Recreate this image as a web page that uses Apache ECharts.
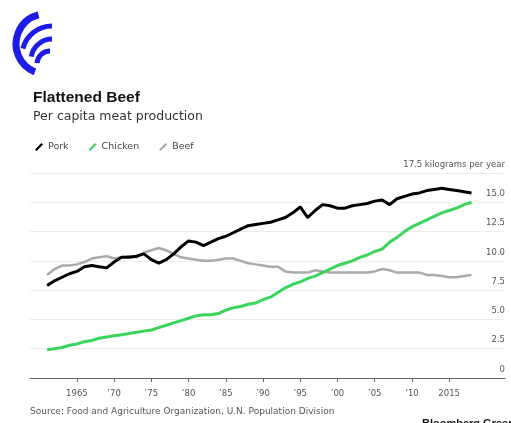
<!DOCTYPE html>
<html>
<head>
<meta charset="utf-8">
<script src="https://cdn.jsdelivr.net/npm/echarts@6/dist/echarts.min.js"></script>
<style>html,body{margin:0;padding:0;background:#fff}#c{width:511px;height:423px}</style>
</head>
<body>
<div id="c"></div>
<script>
const years = [];
for (let y = 1961; y <= 2018; y++) years.push(y);
const pork = [7.9,8.3,8.6,8.9,9.1,9.5,9.6,9.5,9.4,9.9,10.3,10.3,10.4,10.6,10.1,9.8,10.1,10.6,11.2,11.7,11.6,11.3,11.6,11.9,12.1,12.4,12.7,13.0,13.1,13.2,13.3,13.5,13.7,14.1,14.6,13.7,14.3,14.8,14.7,14.5,14.5,14.7,14.8,14.9,15.1,15.2,14.8,15.3,15.5,15.7,15.8,16.0,16.1,16.2,16.1,16.0,15.9,15.8];
const chicken = [2.4,2.5,2.6,2.8,2.9,3.1,3.2,3.4,3.5,3.6,3.7,3.8,3.9,4.0,4.1,4.3,4.5,4.7,4.9,5.1,5.3,5.4,5.4,5.5,5.8,6.0,6.1,6.3,6.4,6.7,6.9,7.3,7.7,8.0,8.2,8.5,8.7,9.0,9.3,9.6,9.8,10.0,10.3,10.5,10.8,11.0,11.6,12.0,12.5,12.9,13.2,13.5,13.8,14.1,14.3,14.5,14.8,15.0];
const beef = [8.8,9.3,9.6,9.6,9.7,9.9,10.2,10.3,10.4,10.2,10.3,10.4,10.3,10.7,10.9,11.1,10.9,10.6,10.3,10.2,10.1,10.0,10.0,10.1,10.2,10.2,10.0,9.8,9.7,9.6,9.5,9.5,9.1,9.0,9.0,9.0,9.2,9.1,9.0,9.0,9.0,9.0,9.0,9.0,9.1,9.3,9.2,9.0,9.0,9.0,9.0,8.8,8.8,8.7,8.6,8.6,8.7,8.8];
const xTicks = [1965,1970,1975,1980,1985,1990,1995,2000,2005,2010,2015];
const xTickLabels = ['1965','\u201970','\u201975','\u201980','\u201985','\u201990','\u201995','\u201900','\u201905','\u201910','2015'];
const yTopLabel = '17.5 kilograms per year';

const FONT = 'DejaVu Sans, sans-serif';
const TFONT = 'Liberation Sans, Arial, sans-serif';
const pair = arr => years.map((y, i) => [y, arr[i]]);
const slash = 'path://M8,0 L10,2 L2,10 L0,8 Z';
const BLUE = '#1c1ce6';

const chart = echarts.init(document.getElementById('c'), null, {renderer: 'canvas'});
chart.setOption({
  animation: false,
  backgroundColor: '#fff',
  textStyle: {fontFamily: FONT},
  title: {
    text: 'Flattened Beef',
    subtext: 'Per capita meat production',
    left: 28, top: 85,
    itemGap: 4,
    textStyle: {fontFamily: TFONT, fontSize: 15.5, fontWeight: 'bold', color: '#111'},
    subtextStyle: {fontFamily: FONT, fontSize: 12.5, color: '#333'}
  },
  legend: {
    left: 30, top: 137,
    itemWidth: 8, itemHeight: 8, itemGap: 20,
    textStyle: {fontFamily: FONT, fontSize: 9.5, color: '#444', padding: [0,0,0,0]},
    data: [
      {name: 'Pork', icon: slash, itemStyle: {color: '#000'}},
      {name: 'Chicken', icon: slash, itemStyle: {color: '#3ad45f'}},
      {name: 'Beef', icon: slash, itemStyle: {color: '#aaa'}}
    ]
  },
  graphic: [
    {type: 'arc', shape: {cx: 46, cy: 44, r: 30, startAngle: Math.PI*0.62, endAngle: Math.PI*1.42}, style: {stroke: BLUE, lineWidth: 7, fill: null}},
    {type: 'arc', shape: {cx: 52, cy: 56, r: 30, startAngle: Math.PI*1.08, endAngle: Math.PI*1.5}, style: {stroke: BLUE, lineWidth: 5, fill: null}},
    {type: 'arc', shape: {cx: 52, cy: 60, r: 21, startAngle: Math.PI*1.05, endAngle: Math.PI*1.5}, style: {stroke: BLUE, lineWidth: 5, fill: null}},
    {type: 'arc', shape: {cx: 50, cy: 64, r: 13, startAngle: Math.PI*1.02, endAngle: Math.PI*1.5}, style: {stroke: BLUE, lineWidth: 5, fill: null}},
    {type: 'text', left: 30, top: 407, style: {text: 'Source: Food and Agriculture Organization, U.N. Population Division', fontFamily: FONT, fontSize: 9, fill: '#555'}},
    {type: 'text', left: 422, top: 418, style: {text: 'Bloomberg Green', fontFamily: TFONT, fontSize: 11, fontWeight: 'bold', fill: '#111'}}
  ],
  grid: {left: 30, right: 6, top: 173, bottom: 45},
  xAxis: {
    type: 'value', min: 1958.7, max: 2022.5,
    axisLine: {show: true, lineStyle: {color: '#666', width: 1}},
    axisTick: {show: true, customValues: xTicks, length: 4, lineStyle: {color: '#666'}},
    axisLabel: {customValues: xTicks, formatter: v => xTickLabels[xTicks.indexOf(v)], fontFamily: FONT, fontSize: 8.5, color: '#555', margin: 11},
    splitLine: {show: false}
  },
  yAxis: {
    type: 'value', position: 'right', min: 0, max: 17.5, interval: 2.5,
    axisLine: {show: false}, axisTick: {show: false},
    splitLine: {show: true, lineStyle: {color: '#ececec', width: 1}},
    axisLabel: {
      inside: true, margin: 0, verticalAlign: 'bottom', align: 'right',
      padding: [0,0,4,0], fontFamily: FONT, fontSize: 8.5, color: '#555',
      formatter: v => v === 17.5 ? yTopLabel : (v === 0 ? '0' : v.toFixed(1))
    }
  },
  series: [
    {name: 'Beef', type: 'line', data: pair(beef), showSymbol: false, lineStyle: {color: '#aaa', width: 2.5}, itemStyle: {color: '#aaa'}, z: 2},
    {name: 'Chicken', type: 'line', data: pair(chicken), showSymbol: false, lineStyle: {color: '#3ad45f', width: 3}, itemStyle: {color: '#3ad45f'}, z: 3},
    {name: 'Pork', type: 'line', data: pair(pork), showSymbol: false, lineStyle: {color: '#000', width: 3}, itemStyle: {color: '#000'}, z: 4}
  ]
});
</script>
</body>
</html>
